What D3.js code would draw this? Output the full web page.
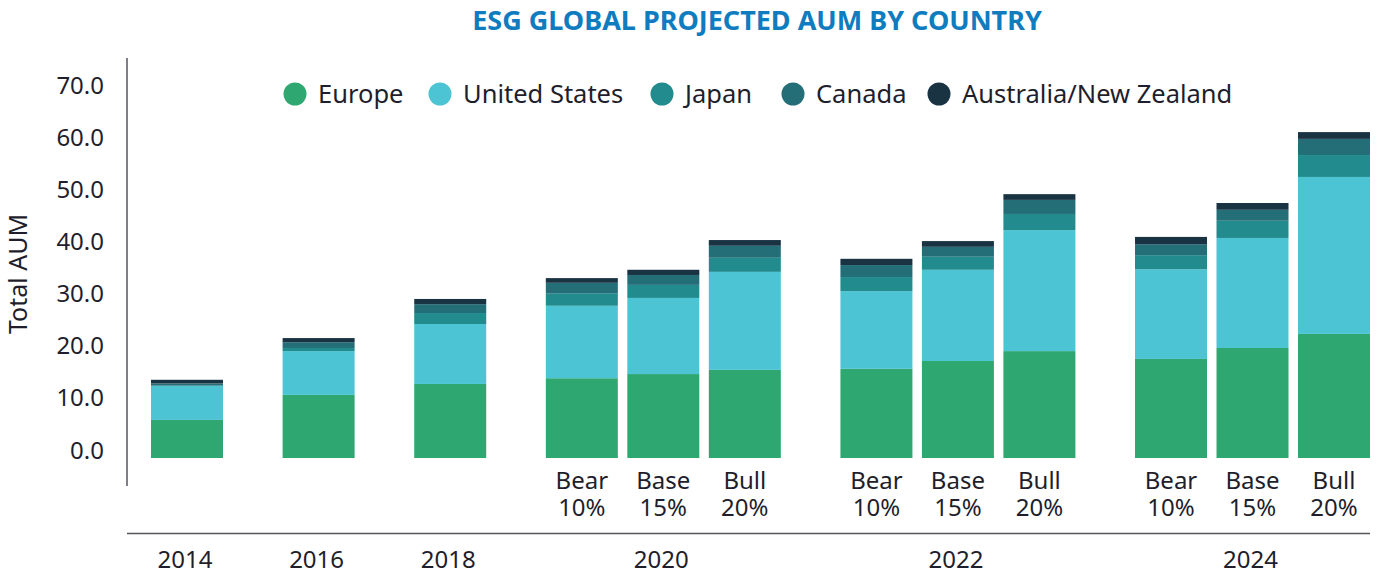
<!DOCTYPE html>
<html>
<head>
<meta charset="utf-8">
<script src="https://cdn.jsdelivr.net/npm/d3@7"></script>
<style>
  body { margin: 0; background: #fff; }
  svg text { font-family: "Noto Sans", "DejaVu Sans", sans-serif; }
</style>
</head>
<body>
<div id="chart"></div>
<script>
// series, bottom to top of each stack
const series = ["Europe", "United States", "Japan", "Canada", "Australia/New Zealand"];
const colors = ["#2ea870", "#4dc4d3", "#218b8e", "#246e78", "#1a3343"];

const years = ["2014", "2016", "2018", "2020", "2022", "2024"];
const scenarios = [[""], [""], [""], ["Bear|10%", "Base|15%", "Bull|20%"], ["Bear|10%", "Base|15%", "Bull|20%"], ["Bear|10%", "Base|15%", "Bull|20%"]];

// one value per bar (12 bars), in the order of the years / scenarios
const europe = [7.3, 12.1, 14.2, 15.3, 16.1, 16.9, 17.1, 18.6, 20.5, 19.0, 21.1, 23.8];
const unitedStates = [6.5, 8.4, 11.5, 13.9, 14.6, 18.8, 14.9, 17.5, 23.2, 17.2, 21.1, 30.1];
const japan = [0.1, 0.6, 2.1, 2.4, 2.5, 2.7, 2.7, 2.5, 3.1, 2.7, 3.3, 4.2];
const canada = [0.4, 1.1, 1.7, 2.0, 1.9, 2.3, 2.3, 1.9, 2.7, 2.1, 2.1, 3.1];
const ausNz = [0.7, 0.8, 1.0, 0.9, 1.0, 1.1, 1.2, 1.1, 1.1, 1.4, 1.3, 1.3];

const yTicks = [0, 10, 20, 30, 40, 50, 60, 70];

function main() {
  const width = 1383, height = 574;
  const textColor = "#1e1e2c";
  const fontSize = 24;

  const svg = d3.select("#chart").append("svg")
    .attr("width", width).attr("height", height);

  // flat list of bars with their group index
  const bars = [];
  scenarios.forEach((sc, g) => sc.forEach(label => bars.push({ g, label, year: years[g] })));
  const valuesBySeries = [europe, unitedStates, japan, canada, ausNz];
  bars.forEach((b, i) => { series.forEach((s, k) => { b[s] = valuesBySeries[k][i]; }); });

  // position unit: one per bar plus an extra gap between year groups
  const groupGap = 0.615;
  const unit = (b, i) => i + groupGap * b.g;
  const x = d3.scaleLinear()
    .domain([0, unit(bars[bars.length - 1], bars.length - 1)])
    .range([187, 1334]);
  const barWidth = 72;

  const y = d3.scaleLinear().domain([0, 70]).range([458, 93]);

  const stacked = d3.stack().keys(series)(bars);

  // title
  svg.append("text")
    .attr("x", 757).attr("y", 30)
    .attr("text-anchor", "middle")
    .attr("font-size", 27).attr("font-weight", "bold")
    .attr("fill", "#0f7cc0")
    .text("ESG GLOBAL PROJECTED AUM BY COUNTRY");

  // bars
  svg.append("g").selectAll("g")
    .data(stacked).join("g")
    .attr("fill", (d, i) => colors[i])
    .selectAll("rect")
    .data(d => d).join("rect")
    .attr("x", (d, i) => x(unit(d.data, i)) - barWidth / 2)
    .attr("y", d => y(d[1]))
    .attr("width", barWidth)
    .attr("height", d => y(d[0]) - y(d[1]));

  // y axis (labels sit with their baseline on the value)
  const yAxis = d3.axisLeft(y).tickValues(yTicks).tickSize(0).tickPadding(23)
    .tickFormat(d => d.toFixed(1));
  const ya = svg.append("g").attr("transform", "translate(127,0)").call(yAxis);
  ya.select(".domain").remove();
  ya.selectAll("text")
    .attr("dy", 0)
    .attr("font-size", fontSize)
    .attr("font-family", "Noto Sans, sans-serif")
    .attr("fill", textColor);

  svg.append("line")
    .attr("x1", 127).attr("x2", 127)
    .attr("y1", 58).attr("y2", 486)
    .attr("stroke", "#55555f").attr("stroke-width", 1.5);

  svg.append("text")
    .attr("transform", "translate(27,274) rotate(-90)")
    .attr("text-anchor", "middle")
    .attr("font-size", 25)
    .attr("fill", textColor)
    .text("Total AUM");

  // scenario labels under bars: two lines each
  const labelled = bars.map((b, i) => ({ b, cx: x(unit(b, i)) })).filter(d => d.b.label);
  [0, 1].forEach(line => {
    svg.append("g").selectAll("text")
      .data(labelled).join("text")
      .attr("x", d => d.cx)
      .attr("y", line === 0 ? 489 : 516)
      .attr("text-anchor", "middle")
      .attr("font-size", fontSize)
      .attr("fill", textColor)
      .text(d => d.b.label.split("|")[line]);
  });

  // separator line
  svg.append("line")
    .attr("x1", 127).attr("x2", 1370)
    .attr("y1", 533.5).attr("y2", 533.5)
    .attr("stroke", "#55555f").attr("stroke-width", 1.5);

  // year labels
  svg.append("g").selectAll("text")
    .data(years).join("text")
    .attr("x", (yr, g) => {
      const cs = bars.map((b, i) => b.g === g ? x(unit(b, i)) : null).filter(v => v !== null);
      return d3.mean(cs) - 2;
    })
    .attr("y", 568)
    .attr("text-anchor", "middle")
    .attr("font-size", fontSize)
    .attr("fill", textColor)
    .text(d => d);

  // legend
  const legendX = [295, 440, 662, 793, 939];
  const lg = svg.append("g").selectAll("g")
    .data(series).join("g")
    .attr("transform", (d, i) => `translate(${legendX[i]},94)`);
  lg.append("circle").attr("r", 11.5).attr("fill", (d, i) => colors[i]);
  lg.append("text")
    .attr("x", 23).attr("y", 8.5)
    .attr("font-size", 25.5)
    .attr("fill", textColor)
    .text(d => d);
}

main();
</script>
</body>
</html>
